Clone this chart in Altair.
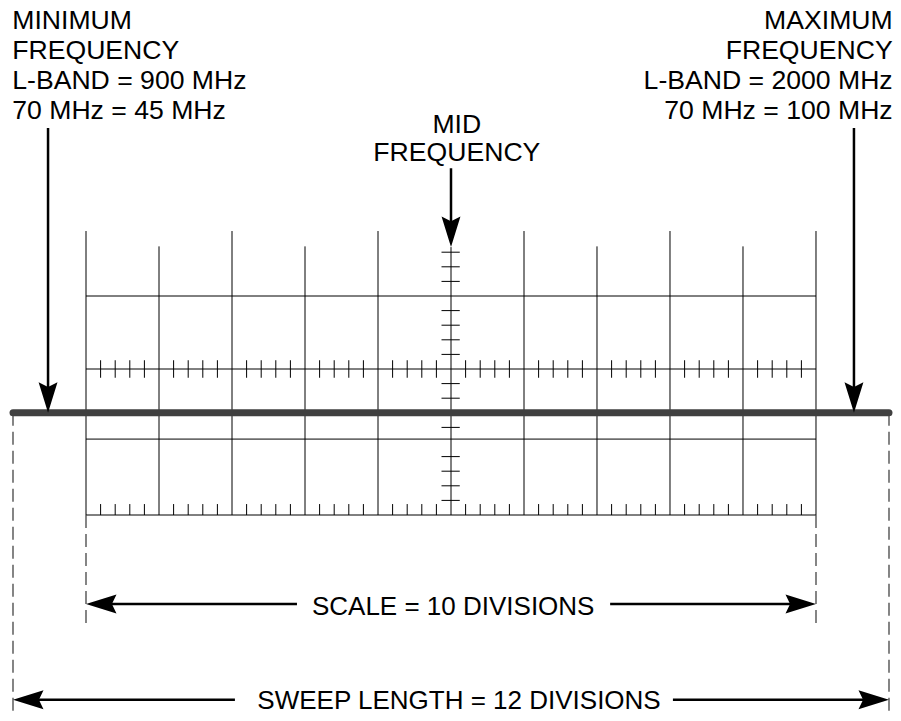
import altair as alt
import pandas as pd

# ---------------- data (screen divisions: 1 unit = one graticule square) -------------
grid_x = [0, 1, 2, 3, 4, 5, 6, 7, 8, 9, 10]
grid_top = [1.89, 1.68, 1.89, 1.68, 1.89, 1.67, 1.89, 1.68, 1.89, 1.68, 1.89]
grid_bottom = [-2.0, -2.0, -2.0, -2.0, -2.0, -2.0, -2.0, -2.0, -2.0, -2.0, -2.0]
grid_y = [1.0, 0.0, -0.96, -2.0]
minor_x = [i / 5 for i in range(1, 50) if i % 5]
center_tick_y = [1.6, 1.4, 1.2, 0.8, 0.6, 0.4, 0.2, -0.2, -0.4,
                 -0.8, -1.2, -1.4, -1.6, -1.8]

trace_y = -0.6
sweep_x = [-1, 11]
scale_x = [0, 10]

# dashed extension lines: x, y-start, y-end
dash_x = [-1, 11, 0, 10]
dash_y1 = [-0.6, -0.6, -2.0, -2.0]
dash_y2 = [-4.9, -4.9, -3.53, -3.53]

# arrow shafts (x, y) -> (x2, y2) and arrow heads (tip x, tip y, angle)
shaft_x1 = [-0.52, 10.52, 5.0, 2.89, 7.18, 2.04, 8.04]
shaft_y1 = [3.30, 3.30, 2.75, -3.22, -3.22, -4.53, -4.53]
shaft_x2 = [-0.52, 10.52, 5.0, 0.2, 9.8, -0.8, 10.8]
shaft_y2 = [-0.4, -0.4, 1.87, -3.22, -3.22, -4.53, -4.53]
head_x = [-0.52, 10.52, 5.0, 0.0, 10.0, -1.0, 11.0]
head_y = [-0.6, -0.6, 1.67, -3.22, -3.22, -4.53, -4.53]
head_angle = [0, 0, 0, 90, 270, 90, 270]

left_lines = ["MINIMUM", "FREQUENCY", "L-BAND = 900 MHz", "70 MHz = 45 MHz"]
right_lines = ["MAXIMUM", "FREQUENCY", "L-BAND = 2000 MHz", "70 MHz = 100 MHz"]
label_y = [4.658, 4.247, 3.836, 3.425]
mid_lines = ["MID", "FREQUENCY"]
mid_y = [3.23, 2.85]
bottom_lines = ["SCALE = 10 DIVISIONS", "SWEEP LENGTH = 12 DIVISIONS"]
bottom_x = [5.03, 5.11]
bottom_y = [-3.37, -4.66]

# ---------------- scales ----------------
XS = alt.Scale(domain=[-1.0685, 11.0548], nice=False, zero=False)
YS = alt.Scale(domain=[-4.7123, 4.9452], nice=False, zero=False)
FONT = "Liberation Sans"
FS = 26.6


def X(f="x"):
    return alt.X(f"{f}:Q", scale=XS, axis=None)


def Y(f="y"):
    return alt.Y(f"{f}:Q", scale=YS, axis=None)


vert = pd.DataFrame({"x": grid_x, "y": grid_top, "y2": grid_bottom})
horiz = pd.DataFrame({"x": [0] * len(grid_y), "x2": [10] * len(grid_y), "y": grid_y})
mid_ticks = pd.DataFrame({"x": minor_x, "y": [-0.12] * len(minor_x), "y2": [0.12] * len(minor_x)})
bot_ticks = pd.DataFrame({"x": minor_x, "y": [-2.0] * len(minor_x), "y2": [-1.85] * len(minor_x)})
v_ticks = pd.DataFrame({"x": [4.87] * len(center_tick_y), "x2": [5.12] * len(center_tick_y),
                        "y": center_tick_y})
trace = pd.DataFrame({"x": [sweep_x[0]], "x2": [sweep_x[1]], "y": [trace_y]})
dashes = pd.DataFrame({"x": dash_x, "y": dash_y1, "y2": dash_y2})
shafts = pd.DataFrame({"x": shaft_x1, "y": shaft_y1, "x2": shaft_x2, "y2": shaft_y2})
heads = pd.DataFrame({"x": head_x, "y": head_y, "a": head_angle})
left_t = pd.DataFrame({"t": left_lines, "x": [-1.01] * 4, "y": label_y})
right_t = pd.DataFrame({"t": right_lines, "x": [11.05] * 4, "y": label_y})
mid_t = pd.DataFrame({"t": mid_lines, "x": [5.08, 5.08], "y": mid_y})
bot_t = pd.DataFrame({"t": bottom_lines, "x": bottom_x, "y": bottom_y})

GRID = "#000000"

l_vert = alt.Chart(vert).mark_rule(color=GRID, strokeWidth=1).encode(x=X(), y=Y(), y2="y2:Q")
l_horiz = alt.Chart(horiz).mark_rule(color=GRID, strokeWidth=1).encode(x=X(), x2="x2:Q", y=Y())
l_mt = alt.Chart(mid_ticks).mark_rule(color=GRID, strokeWidth=1).encode(x=X(), y=Y(), y2="y2:Q")
l_bt = alt.Chart(bot_ticks).mark_rule(color=GRID, strokeWidth=1).encode(x=X(), y=Y(), y2="y2:Q")
l_vt = alt.Chart(v_ticks).mark_rule(color=GRID, strokeWidth=1).encode(x=X(), x2="x2:Q", y=Y())
l_dash = alt.Chart(dashes).mark_rule(color="#444444", strokeWidth=1.3, strokeDash=[13, 6]).encode(
    x=X(), y=Y(), y2="y2:Q")
l_trace = alt.Chart(trace).mark_rule(color="#404040", strokeWidth=7, strokeCap="round").encode(
    x=X(), x2="x2:Q", y=Y())
l_shaft = alt.Chart(shafts).mark_rule(color="black", strokeWidth=2.5).encode(
    x=X(), x2="x2:Q", y=Y(), y2="y2:Q")
l_head = alt.Chart(heads).mark_point(
    shape="M0,0 L-0.62,-2 L0,-1.7 L0.62,-2 Z", size=930, filled=True, color="black",
    opacity=1, strokeWidth=0).encode(x=X(), y=Y(), angle=alt.Angle("a:Q", scale=None))

l_left = alt.Chart(left_t).mark_text(font=FONT, fontSize=FS, align="left", baseline="alphabetic",
                                     color="black").encode(x=X(), y=Y(), text="t:N")
l_right = alt.Chart(right_t).mark_text(font=FONT, fontSize=FS, align="right", baseline="alphabetic",
                                       color="black").encode(x=X(), y=Y(), text="t:N")
l_mid = alt.Chart(mid_t).mark_text(font=FONT, fontSize=FS, align="center", baseline="alphabetic",
                                   color="black").encode(x=X(), y=Y(), text="t:N")
l_bot = alt.Chart(bot_t).mark_text(font=FONT, fontSize=26, align="center", baseline="alphabetic",
                                   color="black").encode(x=X(), y=Y(), text="t:N")

chart = alt.layer(
    l_vert, l_horiz, l_mt, l_bt, l_vt, l_dash, l_trace, l_shaft, l_head,
    l_left, l_right, l_mid, l_bot,
).properties(
    width=885, height=705, padding=0,
    autosize=alt.AutoSizeParams(type="none"),
    background="white",
).configure_view(stroke=None)

chart.save("out.html", embed_options={"renderer": "svg", "actions": False})
